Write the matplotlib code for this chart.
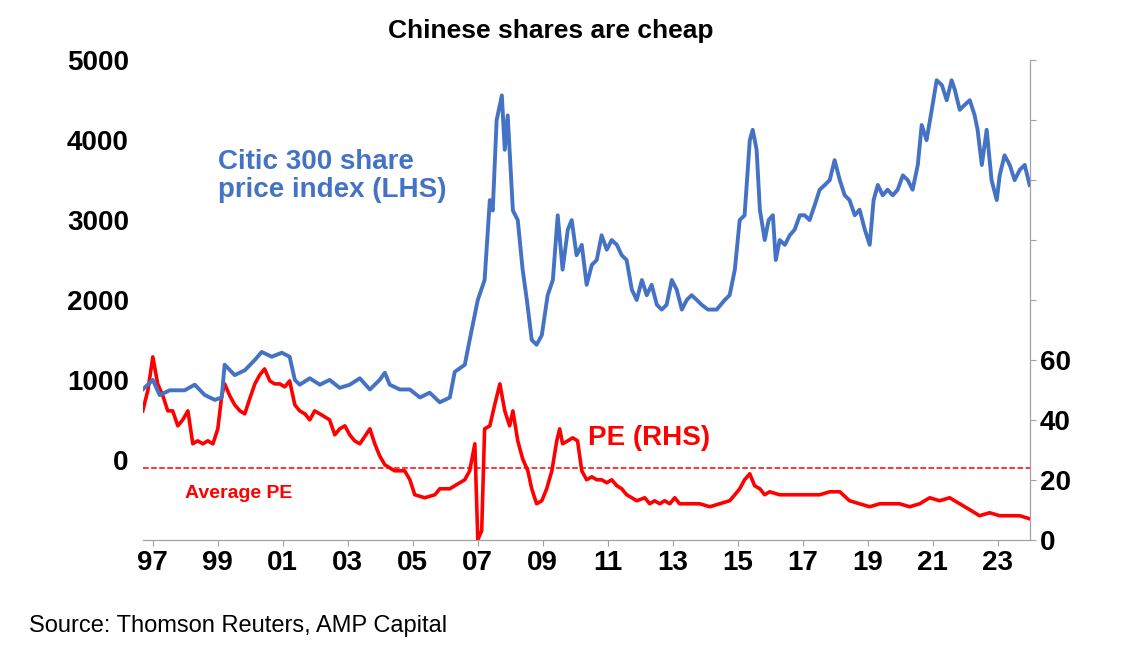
import numpy as np
import matplotlib.pyplot as plt

plt.rcParams['font.family'] = ['Liberation Sans', 'DejaVu Sans']

# Citic 300 share price index (LHS)
citic_t = [1996.69, 1997.00, 1997.21, 1997.52, 1997.98, 1998.29, 1998.60, 1998.91, 1999.12, 1999.21,
           1999.52, 1999.83, 2000.14, 2000.35, 2000.66, 2000.97, 2001.21, 2001.37, 2001.52, 2001.83,
           2002.14, 2002.44, 2002.75, 2003.06, 2003.37, 2003.68, 2003.98, 2004.14, 2004.29, 2004.60,
           2004.91, 2005.22, 2005.52, 2005.83, 2006.14, 2006.29, 2006.60, 2006.75, 2007.00, 2007.21,
           2007.37, 2007.46, 2007.58, 2007.74, 2007.83, 2007.92, 2008.08, 2008.23, 2008.38, 2008.51,
           2008.66, 2008.81, 2008.97, 2009.15, 2009.31, 2009.46, 2009.61, 2009.77, 2009.89, 2010.04,
           2010.20, 2010.35, 2010.51, 2010.66, 2010.81, 2010.97, 2011.12, 2011.28, 2011.43, 2011.58,
           2011.74, 2011.89, 2012.05, 2012.20, 2012.35, 2012.51, 2012.66, 2012.81, 2012.97, 2013.12,
           2013.28, 2013.43, 2013.58, 2013.74, 2013.89, 2014.08, 2014.35, 2014.60, 2014.75, 2014.91,
           2015.06, 2015.21, 2015.37, 2015.46, 2015.58, 2015.68, 2015.83, 2015.95, 2016.08, 2016.17,
           2016.29, 2016.45, 2016.60, 2016.75, 2016.91, 2017.06, 2017.21, 2017.37, 2017.52, 2017.68,
           2017.83, 2017.98, 2018.14, 2018.29, 2018.44, 2018.60, 2018.75, 2018.91, 2019.06, 2019.18,
           2019.31, 2019.46, 2019.61, 2019.77, 2019.92, 2020.08, 2020.23, 2020.38, 2020.54, 2020.66,
           2020.81, 2020.97, 2021.12, 2021.28, 2021.43, 2021.58, 2021.68, 2021.83, 2021.98, 2022.14,
           2022.29, 2022.38, 2022.51, 2022.66, 2022.81, 2022.97, 2023.06, 2023.21, 2023.37, 2023.52,
           2023.68, 2023.83, 2023.98]
citic_v = [880, 1000, 810, 870, 870, 940, 810, 750, 780, 1190,
           1060, 1120, 1250, 1350, 1290, 1340, 1290, 1000, 940, 1020,
           940, 1000, 900, 940, 1020, 880, 1000, 1090, 940, 880,
           880, 780, 840, 720, 780, 1100, 1190, 1500, 2000, 2250,
           3250, 3120, 4250, 4560, 3880, 4310, 3120, 3000, 2380, 2000,
           1500, 1440, 1560, 2060, 2250, 3060, 2380, 2880, 3000, 2560,
           2690, 2190, 2440, 2500, 2810, 2630, 2750, 2690, 2560, 2500,
           2130, 2000, 2250, 2060, 2190, 1940, 1880, 1940, 2250, 2130,
           1880, 2000, 2060, 2000, 1940, 1880, 1880, 2000, 2060, 2380,
           3000, 3060, 4000, 4130, 3880, 3130, 2750, 3000, 3060, 2500,
           2750, 2690, 2810, 2880, 3060, 3060, 3000, 3190, 3380, 3440,
           3500, 3750, 3500, 3310, 3250, 3060, 3130, 2880, 2690, 3250,
           3440, 3310, 3380, 3310, 3380, 3560, 3500, 3380, 3690, 4190,
           4000, 4380, 4750, 4690, 4500, 4750, 4630, 4380, 4440, 4500,
           4310, 4130, 3690, 4130, 3500, 3250, 3560, 3810, 3690, 3500,
           3630, 3690, 3440]

# PE ratio (RHS)
pe_t = [1996.69, 1996.85, 1997.00, 1997.15, 1997.31, 1997.46, 1997.61, 1997.77, 1997.92, 1998.08,
        1998.23, 1998.38, 1998.54, 1998.69, 1998.85, 1999.00, 1999.12, 1999.21, 1999.37, 1999.52,
        1999.68, 1999.83, 1999.98, 2000.14, 2000.29, 2000.44, 2000.60, 2000.75, 2000.91, 2001.06,
        2001.21, 2001.37, 2001.52, 2001.68, 2001.83, 2001.98, 2002.14, 2002.44, 2002.60, 2002.75,
        2002.91, 2003.06, 2003.21, 2003.37, 2003.68, 2003.83, 2003.98, 2004.14, 2004.44, 2004.75,
        2004.91, 2005.06, 2005.37, 2005.68, 2005.83, 2006.14, 2006.29, 2006.60, 2006.75, 2006.91,
        2007.00, 2007.12, 2007.21, 2007.37, 2007.52, 2007.68, 2007.83, 2007.98, 2008.08, 2008.23,
        2008.38, 2008.54, 2008.66, 2008.81, 2008.97, 2009.12, 2009.28, 2009.43, 2009.52, 2009.61,
        2009.77, 2009.92, 2010.07, 2010.20, 2010.35, 2010.51, 2010.66, 2010.81, 2010.97, 2011.12,
        2011.28, 2011.43, 2011.58, 2011.74, 2011.89, 2012.14, 2012.29, 2012.44, 2012.60, 2012.75,
        2012.91, 2013.06, 2013.21, 2013.52, 2013.83, 2014.14, 2014.44, 2014.75, 2014.91, 2015.06,
        2015.21, 2015.37, 2015.52, 2015.68, 2015.83, 2015.98, 2016.29, 2016.60, 2016.91, 2017.21,
        2017.52, 2017.83, 2018.14, 2018.44, 2018.75, 2019.06, 2019.37, 2019.68, 2019.98, 2020.29,
        2020.60, 2020.75, 2020.91, 2021.21, 2021.52, 2021.83, 2022.14, 2022.44, 2022.75, 2023.06,
        2023.37, 2023.68, 2023.98]
pe_v = [43, 50, 61, 52, 48, 43, 43, 38, 40, 43,
        32, 33, 32, 33, 32, 37, 48, 52, 48, 45,
        43, 42, 47, 52, 55, 57, 53, 52, 52, 51,
        53, 45, 43, 42, 40, 43, 42, 40, 35, 37,
        38, 35, 33, 32, 37, 32, 28, 25, 23, 23,
        20, 15, 14, 15, 17, 17, 18, 20, 23, 32,
        0, 3, 37, 38, 45, 52, 43, 38, 43, 33,
        27, 23, 17, 12, 13, 17, 23, 33, 37, 32,
        33, 34, 33, 23, 20, 21, 20, 20, 19, 20,
        18, 17, 15, 14, 13, 14, 12, 13, 12, 13,
        12, 14, 12, 12, 12, 11, 12, 13, 15, 17,
        20, 22, 18, 17, 15, 16, 15, 15, 15, 15,
        15, 16, 16, 13, 12, 11, 12, 12, 12, 11,
        12, 13, 14, 13, 14, 12, 10, 8, 9, 8,
        8, 8, 7]
avg_pe = 24

year_ticks = list(range(1997, 2024, 2))
year_labels = ['%02d' % (y % 100) for y in year_ticks]

blue = '#4472C4'
red = '#FF0000'

fig = plt.figure(figsize=(11.24, 6.55), dpi=100)
ax = fig.add_axes([0.127, 0.176, 0.789, 0.732])
ax2 = ax.twinx()

ax.plot(citic_t, citic_v, color=blue, lw=2.8, zorder=3)
ax2.plot(pe_t, pe_v, color=red, lw=2.6)
ax2.axhline(avg_pe, color=red, ls='--', lw=1.1)

ax.set_xlim(1996.69, 2023.98)
ax.set_ylim(-1000, 5000)
ax2.set_ylim(0, 160)
ax.set_yticks(range(0, 5001, 1000))
ax2.set_yticks(range(0, 161, 20))
ax2.set_yticklabels([str(v) if v <= 60 else '' for v in range(0, 161, 20)])
ax.set_xticks(year_ticks)
ax.set_xticklabels(year_labels)

for a in (ax, ax2):
    a.patch.set_visible(False)
    a.spines['top'].set_visible(False)
    for s in ('left', 'right', 'bottom'):
        a.spines[s].set_color('#A0A0A0')
    a.tick_params(labelsize=20, length=4, color='#A0A0A0')
ax.spines['left'].set_visible(False)
ax2.spines['left'].set_visible(False)
ax.tick_params(axis='y', length=0, pad=10)
ax.set_zorder(2)
for lab in ax.get_xticklabels() + ax.get_yticklabels() + ax2.get_yticklabels():
    lab.set_fontweight('bold')

ax.text(1999.0, 3550, 'Citic 300 share\nprice index (LHS)', color=blue, fontsize=20,
        fontweight='bold', va='center', linespacing=1.1)
ax2.text(2010.4, 34, 'PE (RHS)', color=red, fontsize=20, fontweight='bold', va='center')
ax2.text(1998.0, 15.5, 'Average PE', color=red, fontsize=14, fontweight='bold', va='center')

fig.text(0.49, 0.952, 'Chinese shares are cheap', ha='center', va='center',
         fontsize=19, fontweight='bold')
fig.text(0.026, 0.045, 'Source: Thomson Reuters, AMP Capital', fontsize=17, va='center')

fig.savefig('out.png', dpi=100)
